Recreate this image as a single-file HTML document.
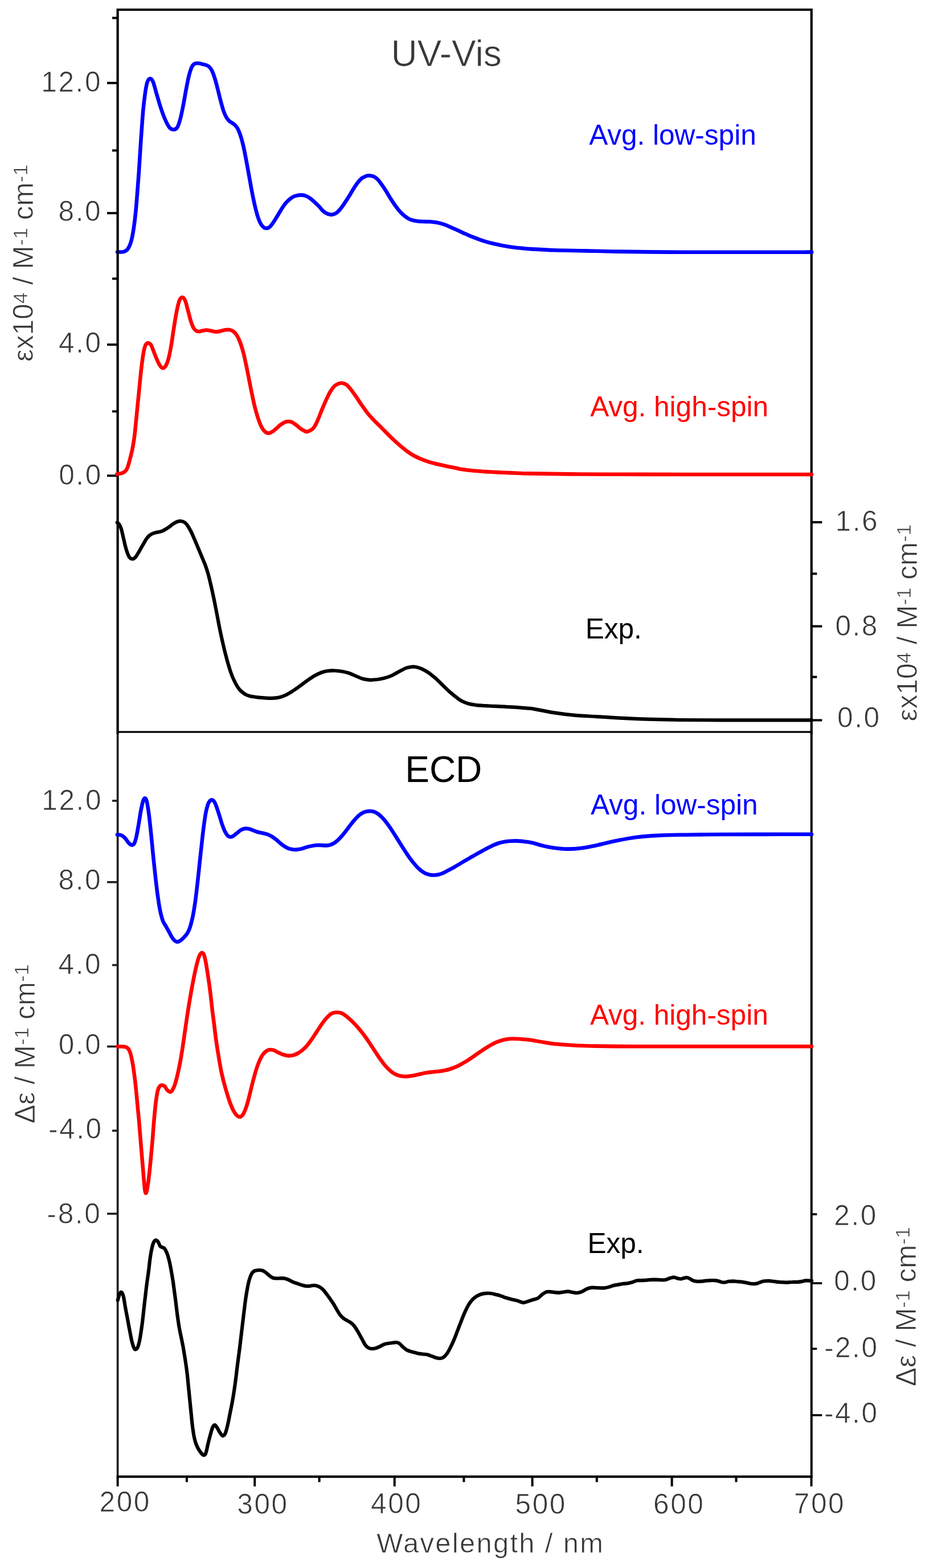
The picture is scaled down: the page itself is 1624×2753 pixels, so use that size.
<!DOCTYPE html>
<html lang="en"><head><meta charset="utf-8"><title>UV-Vis and ECD spectra</title>
<style>html,body{margin:0;padding:0;background:#fff}body{width:1624px;height:2753px;overflow:hidden}svg{display:block}text{font-family:"Liberation Sans", sans-serif;white-space:pre}</style>
</head><body>
<svg width="1624" height="2753" viewBox="0 0 1624 2753">
<rect width="1624" height="2753" fill="#fff"/>
<g fill="none" stroke-linecap="round" stroke-linejoin="round">
<path stroke="#0000ff" stroke-width="6.6" d="M206.0 442.5C206.5 442.5 206.8 442.6 208.8 442.5C210.7 442.4 214.8 443.0 217.5 442.0C220.2 441.0 222.7 439.9 225.0 436.2C227.3 432.6 229.4 427.7 231.2 420.0C233.1 412.3 234.8 401.2 236.2 390.0C237.7 378.8 238.8 367.1 240.0 352.5C241.2 337.9 242.5 320.4 243.8 302.5C245.0 284.6 246.2 262.9 247.5 245.0C248.8 227.1 250.0 208.8 251.2 195.0C252.5 181.2 253.8 171.0 255.0 162.5C256.2 154.0 257.3 147.8 258.8 143.8C260.2 139.7 262.1 138.0 263.8 138.0C265.4 138.0 266.9 139.2 268.8 143.8C270.6 148.2 272.7 157.3 275.0 165.0C277.3 172.7 280.0 182.5 282.5 190.0C285.0 197.5 287.5 204.4 290.0 210.0C292.5 215.6 295.0 220.8 297.5 223.8C300.0 226.7 302.7 227.5 305.0 227.5C307.3 227.5 309.4 226.7 311.2 223.8C313.1 220.8 314.6 216.0 316.2 210.0C317.9 204.0 319.6 195.8 321.2 187.5C322.9 179.2 324.6 168.8 326.2 160.0C327.9 151.2 329.6 141.9 331.2 135.0C332.9 128.1 334.6 122.6 336.2 118.8C337.9 114.9 339.4 113.3 341.2 112.0C343.1 110.7 345.2 110.9 347.5 111.0C349.8 111.1 352.5 111.9 355.0 112.5C357.5 113.1 360.4 113.7 362.5 114.5C364.6 115.3 365.8 115.8 367.5 117.5C369.2 119.2 370.8 121.5 372.5 125.0C374.2 128.5 375.8 133.3 377.5 138.8C379.2 144.2 380.8 151.0 382.5 157.5C384.2 164.0 385.8 171.2 387.5 177.5C389.2 183.8 390.8 190.2 392.5 195.0C394.2 199.8 395.8 203.3 397.5 206.2C399.2 209.2 400.8 210.9 402.5 212.5C404.2 214.1 405.8 214.6 407.5 215.8C409.2 216.9 410.8 217.8 412.5 219.5C414.2 221.2 415.8 223.0 417.5 226.2C419.2 229.5 420.8 233.5 422.5 238.8C424.2 244.0 425.8 250.2 427.5 257.5C429.2 264.8 430.8 273.8 432.5 282.5C434.2 291.2 435.8 300.8 437.5 310.0C439.2 319.2 440.8 329.0 442.5 337.5C444.2 346.0 445.8 354.2 447.5 361.2C449.2 368.3 450.8 374.8 452.5 380.0C454.2 385.2 455.8 389.4 457.5 392.5C459.2 395.6 460.8 397.4 462.5 398.8C464.2 400.1 465.8 400.7 467.5 400.8C469.2 400.8 470.8 400.4 472.5 399.2C474.2 398.1 475.4 396.5 477.5 393.8C479.6 391.0 482.5 386.5 485.0 382.5C487.5 378.5 490.0 374.0 492.5 370.0C495.0 366.0 497.5 361.8 500.0 358.5C502.5 355.3 505.0 352.9 507.5 350.7C510.0 348.5 512.5 346.7 515.0 345.4C517.5 344.1 520.4 343.6 522.5 343.1C524.6 342.6 525.4 342.4 527.5 342.4C529.6 342.4 532.5 342.6 535.0 343.3C537.5 344.1 540.0 345.2 542.5 346.8C545.0 348.3 547.1 350.1 550.0 352.7C552.9 355.3 557.1 359.3 560.0 362.3C562.9 365.3 565.0 368.5 567.5 370.7C570.0 372.9 572.5 374.4 575.0 375.4C577.5 376.4 580.0 377.0 582.5 376.9C585.0 376.7 587.5 375.9 590.0 374.3C592.5 372.6 595.0 369.9 597.5 367.0C600.0 364.0 602.5 360.3 605.0 356.7C607.5 353.0 610.0 349.1 612.5 345.1C615.0 341.1 617.5 336.5 620.0 332.5C622.5 328.5 625.0 324.5 627.5 321.2C630.0 318.0 632.5 315.2 635.0 313.2C637.5 311.2 640.2 310.1 642.5 309.2C644.8 308.4 646.5 308.1 648.8 308.2C651.0 308.4 654.0 309.0 656.2 310.0C658.5 311.0 660.2 312.2 662.5 314.5C664.8 316.8 667.5 320.3 670.0 323.8C672.5 327.2 675.0 331.0 677.5 335.0C680.0 339.0 682.5 343.5 685.0 347.5C687.5 351.5 690.0 355.2 692.5 358.8C695.0 362.3 697.5 365.8 700.0 368.8C702.5 371.8 705.0 374.5 707.5 376.8C710.0 379.0 712.5 380.9 715.0 382.5C717.5 384.1 719.6 385.3 722.5 386.2C725.4 387.2 729.2 387.8 732.5 388.2C735.8 388.7 738.8 388.8 742.5 389.0C746.2 389.2 750.8 389.0 755.0 389.2C759.2 389.5 763.3 389.9 767.5 390.8C771.7 391.6 775.8 392.8 780.0 394.2C784.2 395.7 788.3 397.7 792.5 399.5C796.7 401.3 800.8 403.1 805.0 405.0C809.2 406.9 813.3 408.9 817.5 410.8C821.7 412.6 825.8 414.6 830.0 416.2C834.2 417.9 838.3 419.3 842.5 420.8C846.7 422.2 850.8 423.5 855.0 424.8C859.2 426.0 863.3 427.0 867.5 428.0C871.7 429.0 875.8 429.9 880.0 430.8C884.2 431.6 888.3 432.3 892.5 433.0C896.7 433.7 900.8 434.2 905.0 434.7C909.2 435.2 913.2 435.5 917.5 435.9C921.8 436.3 921.7 436.5 931.0 437.1C940.3 437.6 956.9 438.8 973.0 439.3C989.2 439.9 1009.6 440.0 1027.8 440.4C1046.1 440.8 1058.3 441.3 1082.6 441.6C1107.0 442.0 1143.5 442.4 1173.9 442.6C1204.4 442.8 1223.4 442.8 1265.2 442.8C1307.1 442.8 1398.4 442.8 1425.0 442.8"/>
</g>
<g stroke="#000" fill="none" stroke-linecap="butt">
<line x1="206.6" y1="1285.2" x2="206.6" y2="2594.7" stroke-width="3.7" stroke="#1e1e1e"/>
<line x1="1424.7" y1="1285.2" x2="1424.7" y2="2594.7" stroke-width="4.0" stroke="#000"/>
<line x1="204.8" y1="2592.6" x2="1426.5" y2="2592.6" stroke-width="4.3"/>
<line x1="206.6" y1="14.9" x2="206.6" y2="1288.8" stroke-width="4.2"/>
<line x1="1424.7" y1="14.9" x2="1424.7" y2="1288.8" stroke-width="4.2"/>
<line x1="206.6" y1="17.0" x2="1424.7" y2="17.0" stroke-width="4.2"/>
<line x1="206.6" y1="1285.2" x2="1424.7" y2="1285.2" stroke-width="3.2"/>
<line x1="188.0" y1="145.7" x2="206.6" y2="145.7" stroke-width="4.0"/>
<line x1="188.0" y1="374.2" x2="206.6" y2="374.2" stroke-width="4.0"/>
<line x1="188.0" y1="605.1" x2="206.6" y2="605.1" stroke-width="4.0"/>
<line x1="188.0" y1="835.2" x2="206.6" y2="835.2" stroke-width="4.0"/>
<line x1="197.0" y1="31.5" x2="206.6" y2="31.5" stroke-width="4.0"/>
<line x1="197.0" y1="264.2" x2="206.6" y2="264.2" stroke-width="4.0"/>
<line x1="197.0" y1="489.3" x2="206.6" y2="489.3" stroke-width="4.0"/>
<line x1="197.0" y1="722.3" x2="206.6" y2="722.3" stroke-width="4.0"/>
<line x1="197.0" y1="1406.0" x2="206.6" y2="1406.0" stroke-width="3.6" stroke="#1e1e1e"/>
<line x1="188.0" y1="1548.8" x2="206.6" y2="1548.8" stroke-width="3.6" stroke="#1e1e1e"/>
<line x1="197.0" y1="1694.4" x2="206.6" y2="1694.4" stroke-width="3.6" stroke="#1e1e1e"/>
<line x1="188.0" y1="1837.4" x2="206.6" y2="1837.4" stroke-width="3.6" stroke="#1e1e1e"/>
<line x1="197.0" y1="1985.2" x2="206.6" y2="1985.2" stroke-width="3.6" stroke="#1e1e1e"/>
<line x1="188.0" y1="2131.0" x2="206.6" y2="2131.0" stroke-width="3.6" stroke="#1e1e1e"/>
<line x1="1424.7" y1="916.9" x2="1443.3" y2="916.9" stroke-width="4.0"/>
<line x1="1424.7" y1="1099.6" x2="1443.3" y2="1099.6" stroke-width="4.0"/>
<line x1="1424.7" y1="1264.5" x2="1443.3" y2="1264.5" stroke-width="4.0"/>
<line x1="1424.7" y1="1007.3" x2="1434.3" y2="1007.3" stroke-width="4.0"/>
<line x1="1424.7" y1="1188.6" x2="1434.3" y2="1188.6" stroke-width="4.0"/>
<line x1="1424.7" y1="2131.9" x2="1434.3" y2="2131.9" stroke-width="3.6"/>
<line x1="1424.7" y1="2253.0" x2="1443.3" y2="2253.0" stroke-width="3.6"/>
<line x1="1424.7" y1="2368.1" x2="1434.3" y2="2368.1" stroke-width="3.6"/>
<line x1="1424.7" y1="2484.7" x2="1443.3" y2="2484.7" stroke-width="3.6"/>
<line x1="206.6" y1="2592.6" x2="206.6" y2="2609.7" stroke-width="4.0"/>
<line x1="327.9" y1="2592.6" x2="327.9" y2="2602.2" stroke-width="4.0"/>
<line x1="447.2" y1="2592.6" x2="447.2" y2="2609.7" stroke-width="4.0"/>
<line x1="560.6" y1="2592.6" x2="560.6" y2="2602.2" stroke-width="4.0"/>
<line x1="692.7" y1="2592.6" x2="692.7" y2="2609.7" stroke-width="4.0"/>
<line x1="814.4" y1="2592.6" x2="814.4" y2="2602.2" stroke-width="4.0"/>
<line x1="934.6" y1="2592.6" x2="934.6" y2="2609.7" stroke-width="4.0"/>
<line x1="1047.8" y1="2592.6" x2="1047.8" y2="2602.2" stroke-width="4.0"/>
<line x1="1179.6" y1="2592.6" x2="1179.6" y2="2609.7" stroke-width="4.0"/>
<line x1="1292.5" y1="2592.6" x2="1292.5" y2="2602.2" stroke-width="4.0"/>
<line x1="1424.5" y1="2592.6" x2="1424.5" y2="2609.7" stroke-width="4.0"/>
</g>
<g fill="none" stroke-linecap="round" stroke-linejoin="round">
<path stroke="#ff0000" stroke-width="6.6" d="M205.3 832.5C205.6 832.4 206.2 832.0 207.2 831.8C208.2 831.6 209.9 831.6 211.2 831.4C212.6 831.1 214.0 830.8 215.3 830.3C216.5 829.8 217.6 829.2 218.6 828.4C219.6 827.6 220.5 826.7 221.3 825.5C222.2 824.3 222.9 823.0 223.7 821.3C224.4 819.6 225.0 817.3 225.7 815.1C226.4 812.9 227.1 810.5 227.7 808.2C228.3 805.9 228.8 803.6 229.4 801.3C230.0 799.0 230.6 796.7 231.1 794.4C231.6 792.1 231.8 792.4 232.6 787.5C233.5 782.6 235.1 774.6 236.2 765.0C237.4 755.4 238.5 742.1 239.8 730.0C241.0 717.9 242.2 705.0 243.5 692.5C244.8 680.0 246.0 666.2 247.2 655.0C248.5 643.8 249.8 632.9 251.0 625.0C252.2 617.1 253.5 611.2 254.8 607.5C256.0 603.8 257.4 603.3 258.5 602.5C259.6 601.7 260.3 601.9 261.5 602.5C262.7 603.1 264.1 603.8 265.5 606.2C266.9 608.8 268.4 613.5 270.0 617.5C271.6 621.5 273.3 626.2 275.0 630.0C276.7 633.8 278.3 637.8 280.0 640.5C281.7 643.2 283.3 645.5 285.0 646.0C286.7 646.5 288.3 646.0 290.0 643.8C291.7 641.5 293.3 638.1 295.0 632.5C296.7 626.9 298.3 619.2 300.0 610.0C301.7 600.8 303.3 587.9 305.0 577.5C306.7 567.1 308.3 555.8 310.0 547.5C311.7 539.2 313.3 531.8 315.0 527.5C316.7 523.2 318.3 522.0 320.0 522.0C321.7 522.0 323.3 523.7 325.0 527.5C326.7 531.3 328.3 539.0 330.0 545.0C331.7 551.0 333.3 558.5 335.0 563.8C336.7 569.0 338.3 573.3 340.0 576.2C341.7 579.2 343.3 580.3 345.0 581.2C346.7 582.2 348.1 582.1 350.0 582.0C351.9 581.9 354.2 580.9 356.2 580.5C358.3 580.1 360.2 579.5 362.5 579.5C364.8 579.5 367.3 580.2 370.0 580.8C372.7 581.2 375.8 582.4 378.8 582.5C381.7 582.6 384.8 581.8 387.5 581.2C390.2 580.7 392.5 579.6 395.0 579.2C397.5 578.9 400.2 578.7 402.5 579.0C404.8 579.3 406.7 579.8 408.8 581.2C410.8 582.7 412.9 584.4 415.0 587.5C417.1 590.6 419.2 594.6 421.2 600.0C423.3 605.4 425.6 612.9 427.5 620.0C429.4 627.1 430.8 634.6 432.5 642.5C434.2 650.4 435.8 659.2 437.5 667.5C439.2 675.8 440.8 684.6 442.5 692.5C444.2 700.4 445.8 708.3 447.5 715.0C449.2 721.7 450.8 727.3 452.5 732.5C454.2 737.7 455.8 742.5 457.5 746.2C459.2 750.0 460.8 752.8 462.5 755.0C464.2 757.2 465.8 758.6 467.5 759.5C469.2 760.4 470.6 760.8 472.5 760.5C474.4 760.2 476.7 758.8 478.8 757.5C480.8 756.2 482.7 754.5 485.0 752.5C487.3 750.5 490.0 747.6 492.5 745.8C495.0 743.9 497.7 742.2 500.0 741.2C502.3 740.3 504.2 740.0 506.2 740.0C508.3 740.0 510.2 740.2 512.5 741.2C514.8 742.3 517.5 744.4 520.0 746.2C522.5 748.1 525.0 750.8 527.5 752.5C530.0 754.2 532.9 755.9 535.0 756.8C537.1 757.6 537.5 758.6 540.0 757.8C542.5 756.9 547.1 755.1 550.0 751.9C552.9 748.7 555.0 743.7 557.5 738.4C560.0 733.0 562.5 725.8 565.0 719.8C567.5 713.8 570.0 707.8 572.5 702.4C575.0 697.0 577.5 691.6 580.0 687.5C582.5 683.3 585.2 679.8 587.5 677.5C589.8 675.2 591.7 674.6 593.8 673.8C595.8 672.9 597.7 672.3 600.0 672.5C602.3 672.7 605.0 673.3 607.5 675.0C610.0 676.7 612.1 679.0 615.0 682.5C617.9 686.0 621.7 691.5 625.0 696.2C628.3 701.0 631.7 706.5 635.0 711.2C638.3 716.0 641.7 720.8 645.0 725.0C648.3 729.2 651.7 732.7 655.0 736.2C658.3 739.8 661.2 742.5 665.0 746.2C668.8 750.0 673.3 754.6 677.5 758.8C681.7 762.9 685.8 767.3 690.0 771.2C694.2 775.2 698.3 779.0 702.5 782.5C706.7 786.0 710.8 789.5 715.0 792.5C719.2 795.5 723.3 798.2 727.5 800.5C731.7 802.8 735.8 804.5 740.0 806.2C744.2 808.0 748.3 809.4 752.5 810.8C756.7 812.1 760.8 813.2 765.0 814.2C769.2 815.3 773.3 816.2 777.5 817.1C781.7 818.0 785.8 818.9 790.0 819.8C794.2 820.6 799.0 821.5 802.5 822.2C806.0 823.0 807.7 823.6 811.0 824.1C814.3 824.7 818.5 825.1 822.5 825.5C826.5 825.9 830.8 826.4 835.0 826.8C839.2 827.1 843.3 827.5 847.5 827.8C851.7 828.0 853.8 828.2 860.0 828.5C866.2 828.8 876.7 829.4 885.0 829.8C893.3 830.1 902.3 830.5 910.0 830.7C917.7 831.0 916.0 831.1 931.0 831.4C946.0 831.7 971.8 832.2 1000.0 832.4C1028.2 832.7 1066.7 832.7 1100.0 832.8C1133.3 832.9 1145.8 833.0 1200.0 833.0C1254.2 833.0 1387.5 833.0 1425.0 833.0"/>
<path stroke="#000000" stroke-width="6.2" d="M205.7 917.5C206.2 917.9 207.6 918.3 208.8 920.0C209.9 921.7 211.2 923.8 212.5 927.5C213.8 931.2 215.0 937.3 216.2 942.5C217.5 947.7 218.8 954.0 220.0 958.8C221.2 963.5 222.5 967.9 223.8 971.2C225.0 974.6 226.0 977.0 227.5 978.8C229.0 980.5 230.8 981.5 232.5 981.5C234.2 981.5 235.8 980.5 237.5 978.8C239.2 977.0 240.8 974.0 242.5 971.2C244.2 968.5 245.8 965.4 247.5 962.5C249.2 959.6 250.8 956.6 252.5 953.8C254.2 950.9 255.8 947.8 257.5 945.5C259.2 943.2 260.8 941.4 262.5 940.0C264.2 938.6 265.6 937.8 267.5 937.0C269.4 936.2 271.7 935.5 273.8 935.0C275.8 934.5 277.9 934.3 280.0 933.8C282.1 933.2 284.2 932.7 286.2 931.8C288.3 930.8 290.4 929.6 292.5 928.2C294.6 926.9 296.7 925.2 298.8 923.8C300.8 922.2 302.9 920.5 305.0 919.2C307.1 918.0 309.2 916.7 311.2 916.0C313.3 915.3 315.4 914.8 317.5 915.0C319.6 915.2 321.9 915.8 323.8 917.0C325.6 918.2 326.9 919.4 328.8 922.0C330.6 924.6 332.9 928.5 335.0 932.5C337.1 936.5 339.2 941.5 341.2 946.2C343.3 951.0 345.4 956.2 347.5 961.2C349.6 966.2 351.7 971.2 353.8 976.2C355.8 981.2 358.1 986.2 360.0 991.2C361.9 996.2 363.3 1000.4 365.0 1006.2C366.7 1012.1 368.3 1019.2 370.0 1026.2C371.7 1033.3 373.3 1040.8 375.0 1048.8C376.7 1056.7 378.3 1065.2 380.0 1073.8C381.7 1082.3 383.3 1091.7 385.0 1100.0C386.7 1108.3 388.3 1116.2 390.0 1123.8C391.7 1131.2 393.3 1138.3 395.0 1145.0C396.7 1151.7 398.3 1157.9 400.0 1163.8C401.7 1169.6 403.3 1175.2 405.0 1180.0C406.7 1184.8 408.3 1188.8 410.0 1192.5C411.7 1196.2 413.3 1199.6 415.0 1202.5C416.7 1205.4 418.3 1207.9 420.0 1210.0C421.7 1212.1 422.9 1213.3 425.0 1215.0C427.1 1216.7 430.0 1218.8 432.5 1220.0C435.0 1221.2 436.7 1221.8 440.0 1222.5C443.3 1223.2 448.3 1223.8 452.5 1224.3C456.7 1224.8 460.8 1225.1 465.0 1225.4C469.2 1225.6 473.3 1226.0 477.5 1225.8C481.7 1225.7 485.8 1225.5 490.0 1224.5C494.2 1223.5 498.3 1222.0 502.5 1220.0C506.7 1218.0 510.8 1215.2 515.0 1212.5C519.2 1209.8 523.3 1206.8 527.5 1203.8C531.7 1200.8 535.8 1197.4 540.0 1194.5C544.2 1191.6 548.3 1188.6 552.5 1186.2C556.7 1183.9 561.2 1181.9 565.0 1180.5C568.8 1179.1 571.2 1178.5 575.0 1178.0C578.8 1177.5 583.3 1177.4 587.5 1177.5C591.7 1177.6 595.8 1178.0 600.0 1178.8C604.2 1179.5 608.3 1180.4 612.5 1181.8C616.7 1183.1 620.8 1185.3 625.0 1187.0C629.2 1188.7 633.3 1190.9 637.5 1192.0C641.7 1193.1 645.8 1193.6 650.0 1193.8C654.2 1193.9 658.3 1193.5 662.5 1193.0C666.7 1192.5 670.8 1191.6 675.0 1190.5C679.2 1189.4 683.3 1188.1 687.5 1186.2C691.7 1184.4 695.8 1181.7 700.0 1179.5C704.2 1177.3 708.8 1174.5 712.5 1173.0C716.2 1171.5 719.6 1171.1 722.5 1170.8C725.4 1170.4 727.1 1170.4 730.0 1171.0C732.9 1171.6 736.2 1172.5 740.0 1174.2C743.8 1176.0 748.3 1178.4 752.5 1181.2C756.7 1184.1 760.8 1187.6 765.0 1191.2C769.2 1194.9 773.3 1199.2 777.5 1203.2C781.7 1207.1 785.8 1211.5 790.0 1215.2C794.2 1218.9 799.0 1222.7 802.5 1225.3C806.0 1228.0 807.7 1229.4 811.0 1231.1C814.3 1232.8 818.5 1234.4 822.5 1235.5C826.5 1236.6 830.8 1237.2 835.0 1237.8C839.2 1238.3 843.3 1238.5 847.5 1238.8C851.7 1239.0 853.8 1239.2 860.0 1239.5C866.2 1239.8 876.7 1240.1 885.0 1240.6C893.3 1241.0 902.3 1241.7 910.0 1242.2C917.7 1242.8 926.6 1243.5 931.0 1243.9C935.4 1244.3 929.5 1243.3 936.5 1244.6C943.5 1245.9 960.9 1249.5 973.0 1251.4C985.2 1253.3 997.4 1254.8 1009.6 1255.9C1021.7 1257.0 1033.9 1257.4 1046.1 1258.1C1058.3 1258.8 1070.4 1259.6 1082.6 1260.3C1094.8 1261.0 1107.0 1261.6 1119.1 1262.1C1131.3 1262.6 1143.5 1262.9 1155.7 1263.2C1167.8 1263.5 1173.9 1263.8 1192.2 1264.0C1210.4 1264.1 1240.9 1264.3 1265.2 1264.3C1289.6 1264.4 1311.6 1264.3 1338.3 1264.3C1364.9 1264.3 1410.5 1264.3 1425.0 1264.3"/>
<path stroke="#0000ff" stroke-width="6.6" d="M205.9 1465.5C206.6 1465.5 208.5 1465.4 210.0 1465.8C211.5 1466.1 213.3 1466.5 215.0 1467.5C216.7 1468.5 218.3 1470.1 220.0 1472.0C221.7 1473.9 223.5 1477.0 225.0 1478.8C226.5 1480.5 227.5 1481.7 228.8 1482.5C230.0 1483.3 231.2 1483.9 232.5 1483.5C233.8 1483.1 235.0 1482.9 236.2 1480.0C237.5 1477.1 238.8 1472.1 240.0 1466.2C241.2 1460.4 242.5 1452.3 243.8 1445.0C245.0 1437.7 246.2 1429.0 247.5 1422.5C248.8 1416.0 250.1 1409.8 251.2 1406.2C252.4 1402.7 253.2 1401.2 254.2 1401.2C255.3 1401.2 256.4 1402.3 257.5 1406.2C258.6 1410.2 259.7 1417.7 260.8 1425.0C261.8 1432.3 262.8 1440.8 263.8 1450.0C264.8 1459.2 265.7 1469.6 266.8 1480.0C267.8 1490.4 268.9 1502.1 270.0 1512.5C271.1 1522.9 272.2 1533.3 273.2 1542.5C274.3 1551.7 275.2 1559.6 276.2 1567.5C277.3 1575.4 278.5 1583.8 279.5 1590.0C280.5 1596.2 281.4 1600.4 282.5 1605.0C283.6 1609.6 284.8 1614.0 286.2 1617.5C287.7 1621.0 289.6 1623.3 291.2 1626.2C292.9 1629.2 294.6 1632.0 296.2 1635.0C297.9 1638.0 299.6 1641.8 301.2 1644.5C302.9 1647.2 304.6 1649.7 306.2 1651.2C307.9 1652.8 309.6 1653.7 311.2 1653.8C312.9 1653.8 314.4 1653.0 316.2 1651.8C318.1 1650.5 320.4 1648.4 322.5 1646.2C324.6 1644.1 326.9 1641.9 328.8 1638.8C330.6 1635.6 332.1 1632.7 333.8 1627.5C335.4 1622.3 337.3 1614.6 338.8 1607.5C340.2 1600.4 341.2 1593.8 342.5 1585.0C343.8 1576.2 345.0 1565.8 346.2 1555.0C347.5 1544.2 348.8 1531.7 350.0 1520.0C351.2 1508.3 352.5 1496.2 353.8 1485.0C355.0 1473.8 356.2 1462.1 357.5 1452.5C358.8 1442.9 360.0 1434.2 361.2 1427.5C362.5 1420.8 363.8 1416.1 365.0 1412.5C366.2 1408.9 367.5 1407.1 368.8 1405.8C370.0 1404.4 371.2 1404.2 372.5 1404.5C373.8 1404.8 375.0 1405.5 376.2 1407.5C377.5 1409.5 378.5 1412.3 380.0 1416.2C381.5 1420.2 383.3 1426.0 385.0 1431.2C386.7 1436.5 388.3 1442.7 390.0 1447.5C391.7 1452.3 393.3 1456.7 395.0 1460.0C396.7 1463.3 398.3 1465.9 400.0 1467.5C401.7 1469.1 403.3 1469.5 405.0 1469.5C406.7 1469.5 408.1 1468.7 410.0 1467.5C411.9 1466.3 414.2 1464.2 416.2 1462.5C418.3 1460.8 420.4 1458.8 422.5 1457.5C424.6 1456.2 426.9 1455.5 428.8 1455.0C430.6 1454.5 431.9 1454.5 433.8 1454.8C435.6 1455.0 437.7 1455.5 440.0 1456.2C442.3 1457.0 445.0 1458.4 447.5 1459.2C450.0 1460.1 452.5 1460.9 455.0 1461.5C457.5 1462.1 460.0 1462.4 462.5 1463.0C465.0 1463.6 467.5 1464.0 470.0 1465.0C472.5 1466.0 475.0 1467.2 477.5 1468.8C480.0 1470.3 482.5 1472.2 485.0 1474.2C487.5 1476.2 490.0 1478.7 492.5 1480.8C495.0 1482.8 497.5 1484.7 500.0 1486.3C502.5 1487.8 505.0 1489.2 507.5 1490.0C510.0 1490.9 512.7 1491.3 515.0 1491.6C517.3 1491.8 518.8 1491.8 521.2 1491.6C523.8 1491.3 526.9 1490.9 530.0 1490.1C533.1 1489.3 536.7 1487.8 540.0 1486.9C543.3 1486.0 546.7 1485.2 550.0 1484.7C553.3 1484.2 556.7 1483.9 560.0 1483.8C563.3 1483.8 567.1 1484.4 570.0 1484.4C572.9 1484.4 575.0 1484.4 577.5 1483.9C580.0 1483.3 582.5 1482.5 585.0 1481.2C587.5 1479.8 590.0 1477.9 592.5 1475.7C595.0 1473.5 597.5 1470.8 600.0 1468.0C602.5 1465.1 605.0 1461.9 607.5 1458.7C610.0 1455.5 612.5 1452.0 615.0 1448.8C617.5 1445.5 620.0 1442.3 622.5 1439.5C625.0 1436.7 627.5 1433.9 630.0 1431.8C632.5 1429.6 635.0 1428.0 637.5 1426.8C640.0 1425.5 642.7 1424.9 645.0 1424.5C647.3 1424.1 649.2 1424.1 651.2 1424.2C653.3 1424.4 655.2 1424.5 657.5 1425.5C659.8 1426.5 662.5 1428.1 665.0 1430.0C667.5 1431.9 670.0 1434.3 672.5 1437.0C675.0 1439.7 677.5 1442.9 680.0 1446.2C682.5 1449.6 685.0 1453.2 687.5 1457.0C690.0 1460.8 692.5 1464.8 695.0 1468.8C697.5 1472.7 700.0 1476.8 702.5 1480.8C705.0 1484.7 707.5 1488.7 710.0 1492.5C712.5 1496.3 715.0 1500.2 717.5 1503.8C720.0 1507.3 722.5 1510.6 725.0 1513.8C727.5 1516.9 730.0 1519.9 732.5 1522.5C735.0 1525.1 737.5 1527.4 740.0 1529.2C742.5 1531.1 745.0 1532.6 747.5 1533.8C750.0 1534.9 752.5 1535.5 755.0 1536.0C757.5 1536.5 760.0 1536.6 762.5 1536.5C765.0 1536.4 767.5 1536.1 770.0 1535.5C772.5 1534.9 775.0 1534.0 777.5 1533.0C780.0 1532.0 782.1 1530.8 785.0 1529.2C787.9 1527.7 791.7 1525.6 795.0 1523.8C798.3 1521.9 801.7 1520.0 805.0 1518.0C808.3 1516.0 811.7 1514.0 815.0 1512.0C818.3 1510.0 821.7 1508.2 825.0 1506.2C828.3 1504.3 831.7 1502.4 835.0 1500.5C838.3 1498.6 841.7 1496.8 845.0 1495.0C848.3 1493.2 851.7 1491.2 855.0 1489.5C858.3 1487.8 861.7 1486.0 865.0 1484.5C868.3 1483.0 871.7 1481.6 875.0 1480.5C878.3 1479.4 881.7 1478.6 885.0 1478.0C888.3 1477.4 891.7 1477.0 895.0 1476.7C898.3 1476.5 901.7 1476.4 905.0 1476.4C908.3 1476.5 911.7 1476.6 915.0 1476.9C918.3 1477.2 922.3 1477.8 925.0 1478.1C927.7 1478.5 929.1 1478.7 931.0 1479.0C932.9 1479.4 932.6 1479.2 936.5 1480.2C940.5 1481.3 948.7 1483.9 954.8 1485.4C960.9 1486.8 966.3 1487.8 973.0 1488.7C979.7 1489.6 987.7 1490.5 995.0 1490.6C1002.3 1490.8 1008.4 1490.6 1016.9 1489.5C1025.4 1488.5 1035.1 1486.7 1046.1 1484.4C1057.0 1482.2 1070.4 1478.4 1082.6 1476.0C1094.8 1473.6 1107.0 1471.3 1119.1 1469.8C1131.3 1468.3 1143.5 1467.5 1155.7 1466.9C1167.8 1466.2 1180.0 1466.0 1192.2 1465.8C1204.4 1465.5 1216.5 1465.5 1228.7 1465.4C1240.9 1465.3 1247.0 1465.1 1265.2 1465.0C1283.5 1465.0 1311.6 1464.9 1338.3 1464.9C1364.9 1464.8 1410.5 1464.7 1425.0 1464.7"/>
<path stroke="#ff0000" stroke-width="6.6" d="M206.7 1837.5C207.7 1837.5 210.3 1837.4 212.5 1837.5C214.7 1837.6 217.9 1837.4 220.0 1838.0C222.1 1838.6 223.5 1839.5 225.0 1841.2C226.5 1843.0 227.5 1844.8 228.8 1848.8C230.0 1852.7 231.2 1858.1 232.5 1865.0C233.8 1871.9 235.0 1880.1 236.2 1890.2C237.5 1900.2 238.8 1912.7 240.0 1925.3C241.2 1937.8 242.5 1951.1 243.8 1965.3C245.0 1979.5 246.5 1997.9 247.5 2010.4C248.5 2022.9 249.2 2030.4 250.0 2040.4C250.8 2050.4 251.8 2062.5 252.5 2070.5C253.2 2078.4 253.7 2083.9 254.2 2088.0C254.8 2092.1 255.3 2095.0 256.0 2095.0C256.7 2095.0 257.5 2092.1 258.3 2088.1C259.1 2084.0 259.9 2078.5 260.9 2070.6C261.9 2062.7 263.1 2051.5 264.1 2040.6C265.2 2029.8 266.4 2016.9 267.4 2005.7C268.4 1994.4 269.1 1983.2 269.9 1973.2C270.7 1963.2 271.6 1953.7 272.4 1945.8C273.2 1937.9 274.1 1931.2 274.9 1925.8C275.7 1920.4 276.4 1916.6 277.4 1913.4C278.4 1910.1 279.8 1907.7 281.1 1906.4C282.5 1905.1 284.2 1905.3 285.6 1905.5C287.1 1905.7 288.3 1906.3 289.6 1907.8C291.0 1909.2 292.2 1912.5 293.8 1914.1C295.3 1915.7 297.5 1917.2 299.0 1917.2C300.4 1917.2 301.2 1916.4 302.5 1914.3C303.8 1912.1 305.5 1908.9 307.0 1904.3C308.6 1899.8 310.1 1893.5 311.7 1886.9C313.3 1880.2 314.9 1872.1 316.4 1864.5C317.8 1856.8 319.1 1848.7 320.3 1841.2C321.4 1833.8 322.3 1827.1 323.4 1819.8C324.4 1812.4 325.6 1804.8 326.7 1797.1C327.8 1789.5 328.9 1781.6 330.2 1773.9C331.4 1766.1 332.6 1758.5 334.0 1750.6C335.3 1742.8 336.8 1734.6 338.3 1726.8C339.8 1718.9 341.4 1710.6 343.0 1703.5C344.6 1696.5 346.5 1689.0 347.8 1684.4C349.1 1679.9 349.9 1678.0 351.0 1676.1C352.2 1674.2 353.4 1672.8 354.6 1672.9C355.8 1672.9 357.1 1673.7 358.2 1676.5C359.3 1679.2 360.2 1684.2 361.2 1689.2C362.2 1694.2 363.1 1700.3 364.1 1706.5C365.1 1712.7 366.1 1719.1 367.1 1726.2C368.1 1733.2 369.1 1741.0 370.0 1748.8C370.9 1756.7 371.8 1765.6 372.7 1773.3C373.6 1781.0 374.4 1786.4 375.5 1795.0C376.6 1803.6 378.0 1815.8 379.2 1825.0C380.5 1834.2 381.5 1840.8 383.0 1850.0C384.5 1859.2 386.5 1871.2 388.2 1880.0C390.0 1888.8 391.8 1895.6 393.6 1902.5C395.4 1909.4 397.2 1915.4 399.0 1921.2C400.8 1927.1 402.6 1932.7 404.4 1937.5C406.2 1942.3 408.1 1946.7 409.8 1950.0C411.6 1953.3 413.3 1955.7 415.0 1957.5C416.7 1959.3 418.3 1960.5 420.0 1960.8C421.7 1961.0 423.3 1960.5 425.0 1958.8C426.7 1957.0 428.3 1954.0 430.0 1950.0C431.7 1946.0 433.3 1940.8 435.0 1935.0C436.7 1929.2 438.3 1921.7 440.0 1915.0C441.7 1908.3 443.3 1901.2 445.0 1895.0C446.7 1888.8 448.3 1882.7 450.0 1877.5C451.7 1872.3 453.3 1867.7 455.0 1863.8C456.7 1859.8 458.3 1856.5 460.0 1853.8C461.7 1851.0 463.3 1849.1 465.0 1847.5C466.7 1845.9 468.3 1844.8 470.0 1844.0C471.7 1843.2 473.1 1843.0 475.0 1843.0C476.9 1843.0 479.2 1843.5 481.2 1844.2C483.3 1845.0 485.2 1846.4 487.5 1847.5C489.8 1848.6 492.5 1849.8 495.0 1850.8C497.5 1851.7 500.4 1852.5 502.5 1853.0C504.6 1853.5 505.4 1853.7 507.5 1853.6C509.6 1853.5 512.5 1853.2 515.0 1852.6C517.5 1851.9 520.0 1850.9 522.5 1849.5C525.0 1848.2 527.5 1846.5 530.0 1844.5C532.5 1842.5 535.0 1840.3 537.5 1837.5C540.0 1834.8 542.5 1831.4 545.0 1828.0C547.5 1824.6 550.0 1820.8 552.5 1817.0C555.0 1813.2 557.5 1809.2 560.0 1805.5C562.5 1801.8 565.0 1797.8 567.5 1794.5C570.0 1791.2 572.7 1787.9 575.0 1785.5C577.3 1783.1 579.2 1781.3 581.2 1780.0C583.3 1778.7 585.6 1778.2 587.5 1777.8C589.4 1777.3 590.6 1777.4 592.5 1777.5C594.4 1777.6 596.7 1777.8 598.8 1778.5C600.8 1779.2 602.7 1780.4 605.0 1782.0C607.3 1783.6 610.0 1785.8 612.5 1788.0C615.0 1790.2 617.5 1792.5 620.0 1795.0C622.5 1797.5 625.0 1800.2 627.5 1803.0C630.0 1805.8 632.5 1808.8 635.0 1812.0C637.5 1815.2 640.0 1818.5 642.5 1822.0C645.0 1825.5 647.5 1829.2 650.0 1833.0C652.5 1836.8 655.0 1840.7 657.5 1844.5C660.0 1848.3 662.5 1852.1 665.0 1855.8C667.5 1859.4 670.0 1863.0 672.5 1866.2C675.0 1869.5 677.5 1872.4 680.0 1875.0C682.5 1877.6 685.0 1879.8 687.5 1881.8C690.0 1883.7 692.5 1885.3 695.0 1886.5C697.5 1887.7 699.8 1888.4 702.5 1889.0C705.2 1889.6 708.3 1890.0 711.2 1890.0C714.2 1890.0 716.9 1889.7 720.0 1889.2C723.1 1888.8 726.7 1888.2 730.0 1887.5C733.3 1886.8 736.7 1886.0 740.0 1885.2C743.3 1884.5 746.7 1883.8 750.0 1883.2C753.3 1882.7 756.7 1882.4 760.0 1882.0C763.3 1881.6 766.7 1881.4 770.0 1881.0C773.3 1880.6 776.7 1880.2 780.0 1879.5C783.3 1878.9 786.7 1878.1 790.0 1877.0C793.3 1876.0 796.5 1874.9 800.0 1873.3C803.5 1871.8 807.7 1869.5 811.0 1867.7C814.3 1865.9 816.8 1864.5 820.0 1862.5C823.2 1860.5 826.7 1858.0 830.0 1855.8C833.3 1853.5 836.7 1851.0 840.0 1848.8C843.3 1846.5 846.7 1844.2 850.0 1842.0C853.3 1839.8 856.7 1837.7 860.0 1835.8C863.3 1833.8 866.7 1832.0 870.0 1830.5C873.3 1829.0 876.7 1827.8 880.0 1826.8C883.3 1825.8 886.7 1825.1 890.0 1824.6C893.3 1824.1 896.7 1823.8 900.0 1823.7C903.3 1823.6 906.7 1823.8 910.0 1824.0C913.3 1824.2 916.5 1824.5 920.0 1824.8C923.5 1825.1 928.2 1825.6 931.0 1825.9C933.8 1826.2 932.6 1826.0 936.5 1826.7C940.5 1827.4 948.7 1829.1 954.8 1830.1C960.9 1831.1 963.9 1831.9 973.0 1832.8C982.2 1833.7 997.4 1834.9 1009.6 1835.5C1021.7 1836.1 1027.8 1836.3 1046.1 1836.6C1064.4 1836.9 1082.6 1837.2 1119.1 1837.3C1155.7 1837.4 1214.3 1837.3 1265.2 1837.3C1316.2 1837.3 1398.4 1837.3 1425.0 1837.3"/>
<path stroke="#000000" stroke-width="6.2" d="M206.7 2283.0C207.3 2280.9 209.3 2272.8 210.5 2270.5C211.7 2268.2 212.7 2268.1 213.8 2269.2C214.8 2270.4 216.0 2273.2 217.0 2277.5C218.0 2281.8 218.9 2288.8 220.0 2295.0C221.1 2301.2 222.5 2308.3 223.8 2315.0C225.0 2321.7 226.2 2328.5 227.5 2335.0C228.8 2341.5 230.0 2348.5 231.2 2353.8C232.5 2359.0 233.8 2363.7 235.0 2366.2C236.2 2368.8 237.1 2369.5 238.2 2369.2C239.4 2369.0 240.8 2368.2 242.0 2365.0C243.2 2361.8 244.5 2356.7 245.8 2350.0C247.0 2343.3 248.2 2334.6 249.5 2325.0C250.8 2315.4 252.0 2303.3 253.2 2292.5C254.5 2281.7 255.8 2270.0 257.0 2260.0C258.2 2250.0 259.6 2241.2 260.8 2232.5C261.9 2223.8 262.7 2214.6 263.8 2207.5C264.8 2200.4 265.9 2194.6 267.0 2190.0C268.1 2185.4 269.2 2182.1 270.5 2180.0C271.8 2177.9 273.2 2177.3 274.5 2177.5C275.8 2177.7 276.9 2179.5 278.0 2181.2C279.1 2183.0 280.1 2186.5 281.2 2188.0C282.4 2189.5 283.8 2189.3 285.0 2190.0C286.2 2190.7 287.5 2190.5 288.8 2192.0C290.0 2193.5 291.2 2195.8 292.5 2198.8C293.8 2201.8 295.0 2205.2 296.2 2210.0C297.5 2214.8 298.8 2220.8 300.0 2227.5C301.2 2234.2 302.5 2241.7 303.8 2250.0C305.0 2258.3 306.2 2267.9 307.5 2277.5C308.8 2287.1 310.1 2298.8 311.2 2307.5C312.4 2316.2 313.4 2323.4 314.5 2330.0C315.6 2336.6 316.8 2341.2 317.9 2346.8C319.0 2352.5 320.2 2358.1 321.3 2363.7C322.3 2369.3 323.2 2374.9 324.1 2380.5C325.0 2386.2 325.9 2391.8 326.7 2397.4C327.5 2403.0 328.2 2408.6 328.9 2414.2C329.5 2419.8 330.0 2425.5 330.5 2431.1C331.1 2436.7 331.7 2442.3 332.2 2447.9C332.8 2453.5 333.3 2459.2 333.9 2464.8C334.5 2470.4 335.0 2476.0 335.6 2481.6C336.2 2487.2 336.7 2493.4 337.3 2498.5C337.8 2503.5 338.3 2507.7 339.0 2511.9C339.6 2516.2 340.2 2520.1 341.0 2523.7C341.8 2527.4 342.6 2530.8 343.7 2533.8C344.7 2536.9 346.1 2539.7 347.4 2542.3C348.7 2544.8 350.3 2547.2 351.6 2549.0C352.9 2550.8 353.9 2552.2 355.0 2553.2C356.0 2554.2 356.9 2554.9 357.8 2554.9C358.8 2554.9 359.7 2554.5 360.5 2553.2C361.3 2552.0 361.8 2550.3 362.5 2547.3C363.3 2544.4 364.2 2539.2 365.1 2535.5C365.9 2531.9 366.8 2528.6 367.6 2525.4C368.4 2522.2 369.3 2519.1 370.1 2516.2C371.0 2513.2 371.9 2509.8 372.7 2507.7C373.4 2505.6 373.9 2504.5 374.7 2503.5C375.4 2502.5 376.4 2501.7 377.2 2501.8C378.0 2502.0 378.8 2503.1 379.7 2504.4C380.7 2505.6 381.7 2507.6 382.8 2509.4C383.8 2511.2 385.1 2513.6 386.1 2515.3C387.2 2517.0 388.2 2518.6 389.2 2519.5C390.1 2520.4 391.1 2521.0 392.0 2520.7C393.0 2520.4 394.0 2519.6 394.9 2517.8C395.8 2516.1 396.7 2513.5 397.6 2510.3C398.5 2507.0 399.4 2503.2 400.5 2498.5C401.5 2493.7 402.7 2487.2 403.8 2481.6C404.9 2476.0 406.2 2470.4 407.2 2464.8C408.2 2459.2 409.2 2453.5 410.1 2447.9C411.0 2442.3 411.8 2436.7 412.6 2431.1C413.4 2425.5 414.1 2419.8 414.8 2414.2C415.5 2408.6 416.1 2403.0 416.8 2397.4C417.5 2391.8 418.3 2386.2 419.0 2380.5C419.7 2374.9 419.3 2378.8 421.2 2363.7C423.0 2348.6 427.9 2306.4 430.0 2290.0C432.1 2273.6 432.5 2272.1 433.8 2265.0C435.0 2257.9 436.2 2252.1 437.5 2247.5C438.8 2242.9 440.0 2240.0 441.2 2237.5C442.5 2235.0 443.5 2233.7 445.0 2232.5C446.5 2231.3 448.3 2230.9 450.0 2230.5C451.7 2230.1 453.3 2230.0 455.0 2230.0C456.7 2230.0 458.3 2230.0 460.0 2230.5C461.7 2231.0 463.3 2231.9 465.0 2233.0C466.7 2234.1 468.3 2235.6 470.0 2237.0C471.7 2238.4 473.3 2240.1 475.0 2241.2C476.7 2242.4 477.9 2243.5 480.0 2244.0C482.1 2244.5 485.0 2244.5 487.5 2244.5C490.0 2244.5 492.7 2244.2 495.0 2244.2C497.3 2244.3 499.2 2244.4 501.2 2244.9C503.3 2245.4 505.2 2246.3 507.5 2247.3C509.8 2248.3 512.5 2250.1 515.0 2251.2C517.5 2252.3 520.0 2253.0 522.5 2253.8C525.0 2254.6 527.5 2255.5 530.0 2256.2C532.5 2256.9 535.0 2257.8 537.5 2258.0C540.0 2258.3 542.5 2257.9 545.0 2257.7C547.5 2257.4 550.0 2256.6 552.5 2256.8C555.0 2257.0 557.7 2257.9 560.0 2259.0C562.3 2260.1 564.2 2261.4 566.2 2263.4C568.3 2265.3 570.4 2268.1 572.5 2270.8C574.6 2273.4 576.7 2276.4 578.8 2279.4C580.8 2282.4 582.9 2285.2 585.0 2288.5C587.1 2291.8 589.2 2295.8 591.2 2299.2C593.3 2302.6 595.4 2306.4 597.5 2309.1C599.6 2311.7 601.7 2313.6 603.8 2315.2C605.8 2316.8 607.9 2317.6 610.0 2318.9C612.1 2320.1 614.2 2320.9 616.2 2322.5C618.3 2324.1 620.4 2326.0 622.5 2328.8C624.6 2331.5 626.7 2335.2 628.8 2338.8C630.8 2342.3 632.9 2346.2 635.0 2350.0C637.1 2353.8 639.4 2358.5 641.2 2361.2C643.1 2364.0 644.4 2365.1 646.2 2366.2C648.1 2367.4 650.2 2367.9 652.5 2368.0C654.8 2368.1 657.5 2367.7 660.0 2367.0C662.5 2366.3 665.0 2364.9 667.5 2363.8C670.0 2362.6 672.5 2360.9 675.0 2360.0C677.5 2359.1 680.0 2358.9 682.5 2358.5C685.0 2358.1 687.7 2357.8 690.0 2357.5C692.3 2357.2 694.4 2356.8 696.2 2357.0C698.1 2357.2 699.4 2357.4 701.2 2358.8C703.1 2360.1 705.4 2363.1 707.5 2365.0C709.6 2366.9 711.7 2368.8 713.8 2370.0C715.8 2371.2 717.7 2371.8 720.0 2372.5C722.3 2373.2 725.0 2373.8 727.5 2374.5C730.0 2375.2 732.5 2376.0 735.0 2376.5C737.5 2377.0 740.0 2377.2 742.5 2377.5C745.0 2377.8 747.5 2377.7 750.0 2378.2C752.5 2378.8 755.0 2379.8 757.5 2380.8C760.0 2381.7 762.5 2383.0 765.0 2383.8C767.5 2384.5 770.2 2385.1 772.5 2385.0C774.8 2384.9 776.7 2384.5 778.8 2383.0C780.8 2381.5 782.9 2379.2 785.0 2376.2C787.1 2373.2 789.2 2369.2 791.2 2365.0C793.3 2360.8 795.4 2356.2 797.5 2351.2C799.6 2346.2 801.7 2340.4 803.8 2335.0C805.8 2329.6 807.9 2324.0 810.0 2318.8C812.1 2313.5 814.2 2308.3 816.2 2303.8C818.3 2299.2 820.4 2294.8 822.5 2291.2C824.6 2287.7 826.7 2284.9 828.8 2282.5C830.8 2280.1 832.9 2278.5 835.0 2277.0C837.1 2275.5 839.2 2274.6 841.2 2273.7C843.3 2272.8 845.2 2272.2 847.5 2271.6C849.8 2271.1 852.5 2270.7 855.0 2270.6C857.5 2270.4 860.0 2270.6 862.5 2271.0C865.0 2271.3 867.5 2272.1 870.0 2272.7C872.5 2273.3 875.0 2273.8 877.5 2274.6C880.0 2275.4 882.5 2276.6 885.0 2277.5C887.5 2278.3 890.0 2279.0 892.5 2279.7C895.0 2280.4 897.4 2281.0 900.0 2281.7C902.6 2282.3 905.4 2282.8 908.1 2283.6C910.8 2284.4 914.2 2286.0 916.2 2286.5C918.2 2287.1 918.2 2287.3 920.2 2286.9C922.2 2286.5 925.6 2285.3 928.3 2284.4C931.0 2283.5 933.7 2282.6 936.4 2281.7C939.1 2280.8 941.9 2280.6 944.5 2279.2C947.0 2277.7 949.2 2274.8 951.5 2273.0C953.9 2271.3 956.4 2269.4 958.6 2268.5C960.8 2267.7 962.3 2267.9 964.7 2267.9C967.0 2268.0 970.1 2268.7 972.8 2268.9C975.5 2269.2 978.2 2269.6 980.9 2269.6C983.6 2269.5 986.3 2268.9 988.9 2268.5C991.6 2268.2 994.3 2267.3 997.0 2267.3C999.7 2267.4 1002.4 2268.5 1005.1 2268.9C1007.8 2269.4 1010.5 2270.1 1013.2 2270.0C1015.9 2269.8 1018.6 2269.0 1021.3 2267.9C1024.0 2266.8 1026.7 2264.5 1029.4 2263.3C1032.1 2262.1 1034.8 2261.3 1037.5 2260.9C1040.2 2260.5 1042.9 2260.8 1045.6 2260.9C1048.2 2260.9 1050.9 2261.2 1053.6 2261.3C1056.3 2261.3 1059.0 2261.6 1061.7 2261.3C1064.4 2261.0 1067.1 2260.2 1069.8 2259.4C1072.5 2258.7 1075.2 2257.5 1077.9 2256.8C1080.6 2256.1 1083.3 2255.9 1086.0 2255.4C1088.7 2254.9 1091.4 2254.3 1094.1 2253.9C1096.8 2253.6 1099.5 2253.5 1102.2 2253.1C1104.9 2252.6 1107.5 2252.0 1110.2 2251.2C1112.9 2250.4 1115.6 2248.9 1118.3 2248.3C1121.0 2247.8 1123.7 2248.2 1126.4 2248.1C1129.1 2248.0 1131.8 2247.9 1134.5 2247.7C1137.2 2247.4 1140.0 2247.0 1142.6 2246.8C1145.2 2246.6 1147.1 2246.6 1150.0 2246.6C1152.9 2246.7 1157.1 2247.2 1160.1 2247.2C1163.1 2247.3 1165.5 2247.5 1168.2 2247.0C1170.9 2246.5 1173.8 2244.8 1176.3 2244.1C1178.8 2243.4 1181.0 2242.5 1183.4 2242.6C1185.7 2242.7 1188.4 2244.3 1190.4 2244.8C1192.5 2245.3 1193.8 2245.6 1195.5 2245.5C1197.2 2245.4 1198.9 2244.4 1200.5 2244.0C1202.2 2243.6 1203.9 2242.9 1205.6 2243.1C1207.3 2243.2 1208.8 2243.8 1210.6 2244.7C1212.5 2245.6 1214.7 2247.5 1216.7 2248.3C1218.7 2249.2 1220.4 2249.5 1222.8 2249.7C1225.1 2250.0 1228.2 2249.9 1230.9 2249.7C1233.6 2249.6 1236.3 2249.0 1238.9 2248.7C1241.6 2248.5 1244.3 2248.2 1247.0 2248.1C1249.7 2248.0 1252.8 2247.9 1255.1 2248.1C1257.5 2248.3 1259.2 2248.8 1261.2 2249.3C1263.2 2249.8 1265.2 2250.8 1267.3 2251.2C1269.3 2251.5 1271.3 2251.6 1273.3 2251.4C1275.3 2251.1 1277.0 2250.1 1279.4 2249.7C1281.7 2249.4 1284.8 2249.3 1287.5 2249.3C1290.2 2249.4 1292.9 2249.9 1295.6 2250.1C1298.2 2250.4 1300.9 2250.4 1303.6 2250.8C1306.3 2251.1 1309.4 2251.9 1311.7 2252.4C1314.1 2252.9 1315.8 2253.5 1317.8 2253.8C1319.8 2254.1 1321.8 2254.3 1323.9 2254.2C1325.9 2254.1 1327.9 2253.8 1329.9 2253.2C1331.9 2252.6 1334.0 2251.4 1336.0 2250.8C1338.0 2250.1 1339.7 2249.6 1342.0 2249.3C1344.4 2249.0 1347.1 2248.8 1350.1 2248.9C1353.2 2249.1 1356.9 2249.8 1360.2 2250.1C1363.6 2250.5 1367.0 2250.9 1370.4 2251.2C1373.7 2251.4 1377.1 2251.6 1380.5 2251.6C1383.8 2251.5 1387.2 2251.1 1390.6 2251.0C1393.9 2250.8 1397.6 2251.0 1400.7 2250.8C1403.7 2250.6 1406.4 2250.1 1408.8 2249.7C1411.1 2249.3 1412.1 2248.5 1414.8 2248.3C1417.5 2248.2 1423.3 2248.7 1425.0 2248.7"/>
<path stroke="#0000ff" stroke-width="6.6" d="M1415 442.8H1425.0"/>
</g>
<text x="72.3" y="160.8" font-size="49.5" fill="#3b3737" text-anchor="start" letter-spacing="2.60" stroke="#fff" stroke-width="0.7">12.0</text>
<text x="102.5" y="387.9" font-size="49.5" fill="#3b3737" text-anchor="start" letter-spacing="2.60" stroke="#fff" stroke-width="0.7">8.0</text>
<text x="103.0" y="618.6" font-size="49.5" fill="#3b3737" text-anchor="start" letter-spacing="2.60" stroke="#fff" stroke-width="0.7">4.0</text>
<text x="103.2" y="850.9" font-size="49.5" fill="#3b3737" text-anchor="start" letter-spacing="2.60" stroke="#fff" stroke-width="0.7">0.0</text>
<text x="73.3" y="1421.9" font-size="49.5" fill="#3b3737" text-anchor="start" letter-spacing="2.60" stroke="#fff" stroke-width="0.7">12.0</text>
<text x="102.5" y="1562.3" font-size="49.5" fill="#3b3737" text-anchor="start" letter-spacing="2.60" stroke="#fff" stroke-width="0.7">8.0</text>
<text x="102.5" y="1709.9" font-size="49.5" fill="#3b3737" text-anchor="start" letter-spacing="2.60" stroke="#fff" stroke-width="0.7">4.0</text>
<text x="102.7" y="1851.3" font-size="49.5" fill="#3b3737" text-anchor="start" letter-spacing="2.60" stroke="#fff" stroke-width="0.7">0.0</text>
<text x="85.0" y="1999.3" font-size="49.5" fill="#3b3737" text-anchor="start" letter-spacing="2.60" stroke="#fff" stroke-width="0.7">-4.0</text>
<text x="82.6" y="2148.4" font-size="49.5" fill="#3b3737" text-anchor="start" letter-spacing="2.60" stroke="#fff" stroke-width="0.7">-8.0</text>
<text x="1466.6" y="932.1" font-size="49.5" fill="#3b3737" text-anchor="start" letter-spacing="2.60" stroke="#fff" stroke-width="0.7">1.6</text>
<text x="1466.4" y="1115.5" font-size="49.5" fill="#3b3737" text-anchor="start" letter-spacing="2.60" stroke="#fff" stroke-width="0.7">0.8</text>
<text x="1470.0" y="1276.9" font-size="49.5" fill="#3b3737" text-anchor="start" letter-spacing="2.60" stroke="#fff" stroke-width="0.7">0.0</text>
<text x="1464.3" y="2150.5" font-size="49.5" fill="#3b3737" text-anchor="start" letter-spacing="2.60" stroke="#fff" stroke-width="0.7">2.0</text>
<text x="1464.2" y="2266.3" font-size="49.5" fill="#3b3737" text-anchor="start" letter-spacing="2.60" stroke="#fff" stroke-width="0.7">0.0</text>
<text x="1446.9" y="2383.1" font-size="49.5" fill="#3b3737" text-anchor="start" letter-spacing="2.60" stroke="#fff" stroke-width="0.7">-2.0</text>
<text x="1446.9" y="2498.2" font-size="49.5" fill="#3b3737" text-anchor="start" letter-spacing="2.60" stroke="#fff" stroke-width="0.7">-4.0</text>
<text x="174.5" y="2654.0" font-size="49.5" fill="#3b3737" text-anchor="start" letter-spacing="2.60" stroke="#fff" stroke-width="0.7">200</text>
<text x="416.3" y="2658.0" font-size="49.5" fill="#3b3737" text-anchor="start" letter-spacing="2.60" stroke="#fff" stroke-width="0.7">300</text>
<text x="651.1" y="2656.7" font-size="49.5" fill="#3b3737" text-anchor="start" letter-spacing="2.60" stroke="#fff" stroke-width="0.7">400</text>
<text x="904.5" y="2658.0" font-size="49.5" fill="#3b3737" text-anchor="start" letter-spacing="2.60" stroke="#fff" stroke-width="0.7">500</text>
<text x="1147.0" y="2658.3" font-size="49.5" fill="#3b3737" text-anchor="start" letter-spacing="2.60" stroke="#fff" stroke-width="0.7">600</text>
<text x="1393.8" y="2656.9" font-size="49.5" fill="#3b3737" text-anchor="start" letter-spacing="2.60" stroke="#fff" stroke-width="0.7">700</text>
<text x="661.3" y="2725.8" font-size="48.8" fill="#3b3737" text-anchor="start" letter-spacing="2.37" stroke="#fff" stroke-width="0.7">Wavelength / nm</text>
<text x="686.4" y="115.9" font-size="64.0" fill="#3b3737" text-anchor="start" stroke="#fff" stroke-width="0.7">UV-Vis</text>
<text x="711.2" y="1372.5" font-size="64.0" fill="#000" text-anchor="start">ECD</text>
<text x="1034.2" y="254.1" font-size="49.5" fill="#0000ff" text-anchor="start">Avg. low-spin</text>
<text x="1036.2" y="730.7" font-size="49.5" fill="#ff0000" text-anchor="start">Avg. high-spin</text>
<text x="1027.7" y="1121.0" font-size="49.5" fill="#000" text-anchor="start">Exp.</text>
<text x="1037.0" y="1429.6" font-size="49.5" fill="#0000ff" text-anchor="start">Avg. low-spin</text>
<text x="1035.9" y="1798.6" font-size="49.5" fill="#ff0000" text-anchor="start">Avg. high-spin</text>
<text x="1031.4" y="2199.8" font-size="49.5" fill="#000" text-anchor="start">Exp.</text>
<text x="0" y="0" font-size="49.5" fill="#3b3737" text-anchor="start" stroke="#fff" stroke-width="0.7" transform="translate(58.2 635.0) rotate(-90)">εx10<tspan font-size="35" dy="-10.4">4</tspan><tspan dy="10.4"> / M</tspan><tspan font-size="35" dy="-10.4">-1</tspan><tspan dy="10.4"> cm</tspan><tspan font-size="35" dy="-10.4">-1</tspan></text>
<text x="0" y="0" font-size="49.5" fill="#3b3737" text-anchor="start" stroke="#fff" stroke-width="0.7" transform="translate(1609.5 1266.4) rotate(-90)">εx10<tspan font-size="35" dy="-10.4">4</tspan><tspan dy="10.4"> / M</tspan><tspan font-size="35" dy="-10.4">-1</tspan><tspan dy="10.4"> cm</tspan><tspan font-size="35" dy="-10.4">-1</tspan></text>
<text x="0" y="0" font-size="49.5" fill="#3b3737" text-anchor="start" stroke="#fff" stroke-width="0.7" transform="translate(60.5 1972.6) rotate(-90)">Δε / M<tspan font-size="35" dy="-10.4">-1</tspan><tspan dy="10.4"> cm</tspan><tspan font-size="35" dy="-10.4">-1</tspan></text>
<text x="0" y="0" font-size="49.5" fill="#3b3737" text-anchor="start" stroke="#fff" stroke-width="0.7" transform="translate(1607.6 2434.0) rotate(-90)">Δε / M<tspan font-size="35" dy="-10.4">-1</tspan><tspan dy="10.4"> cm</tspan><tspan font-size="35" dy="-10.4">-1</tspan></text>
</svg>
</body></html>
